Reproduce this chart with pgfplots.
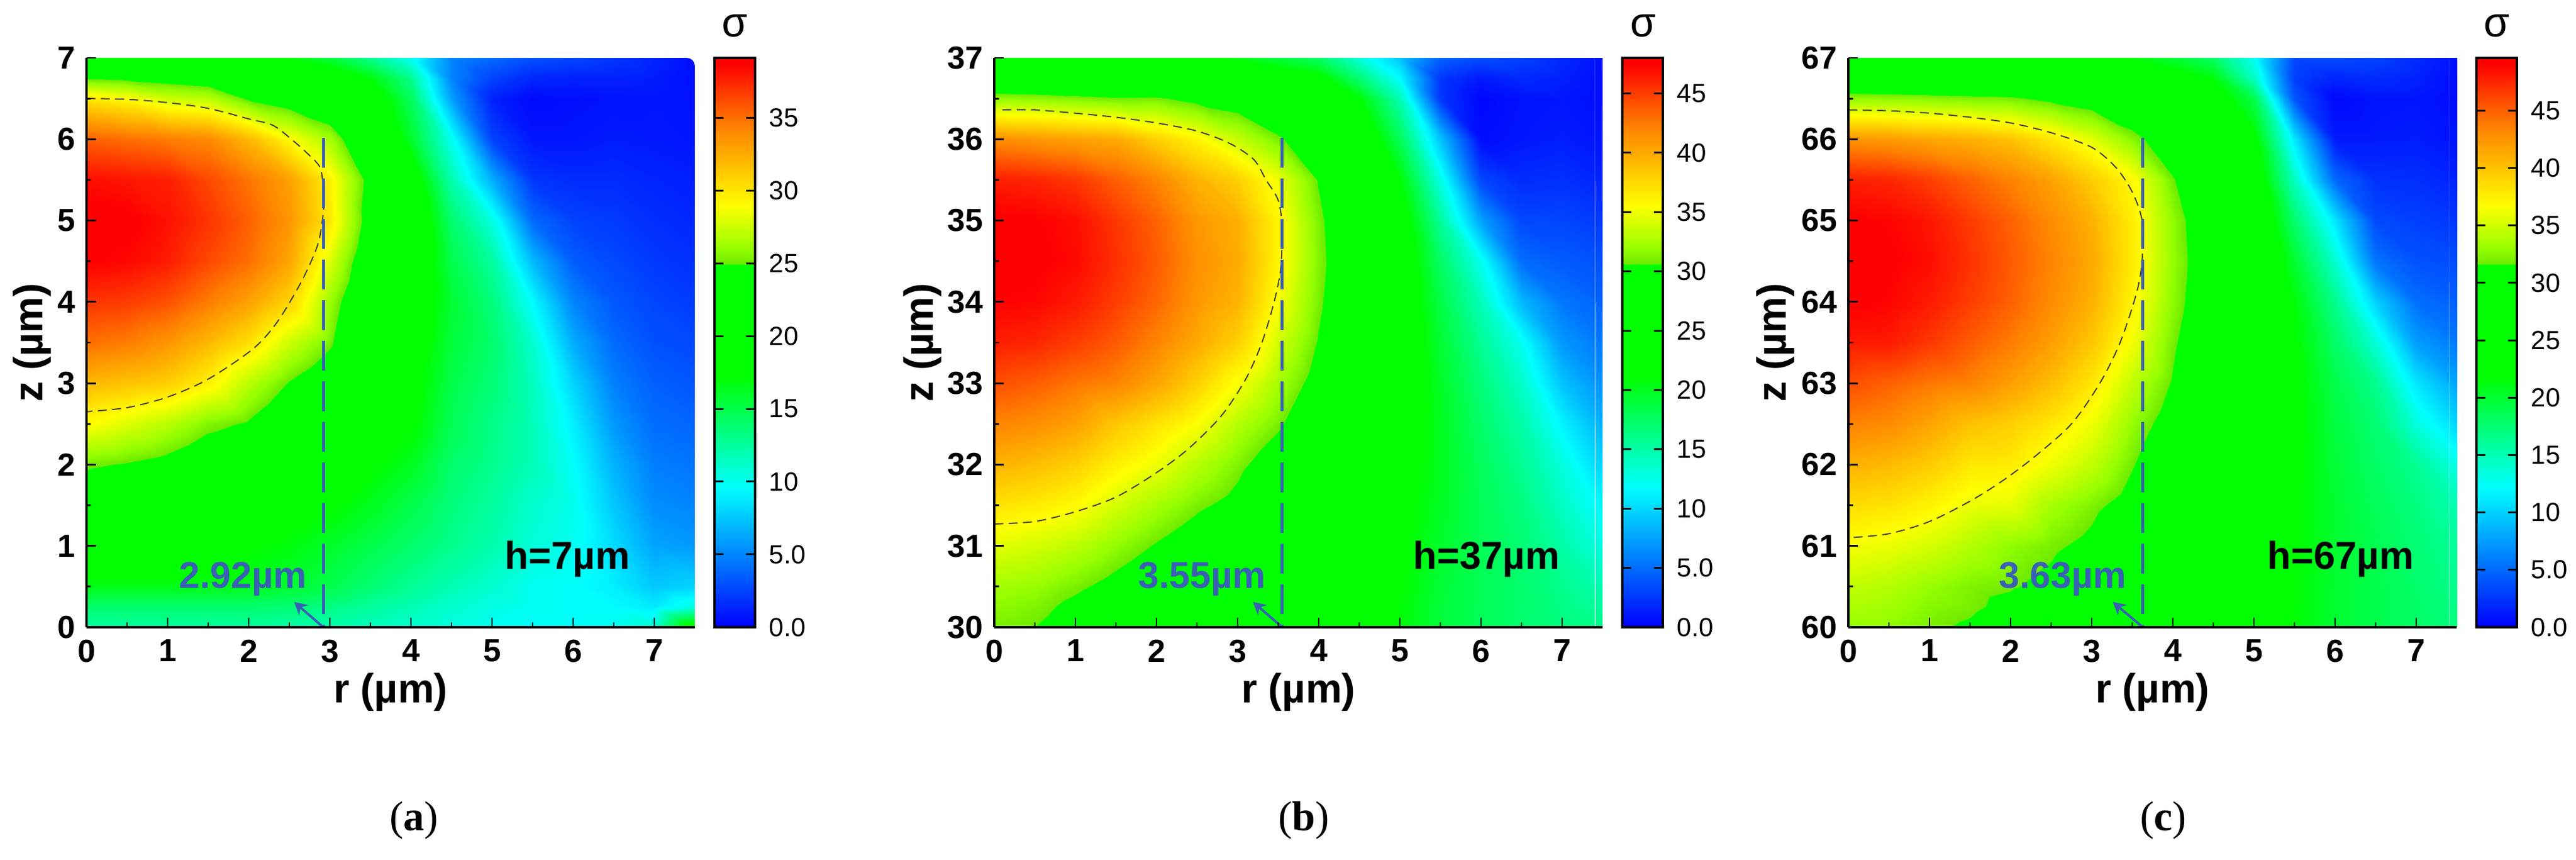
\documentclass[border=0pt]{standalone}
\usepackage{fontspec}
\setmainfont{Liberation Sans}
\newfontfamily\capfont{Liberation Serif}
\usepackage{pgfplots}
\pgfplotsset{compat=1.18}
\usetikzlibrary{arrows.meta}
\definecolor{bl}{RGB}{58,96,180}
\pgfplotsset{
 colormap={sig}{rgb255(0)=(0,0,255) rgb255(245)=(0,255,255) rgb255(440)=(0,255,0) rgb255(637)=(0,255,0) rgb255(638)=(110,235,0) rgb255(665)=(150,255,0) rgb255(740)=(255,255,0) rgb255(880)=(255,128,0) rgb255(990)=(255,0,0) rgb255(1000)=(255,0,0)},
 panel/.style={
  scale only axis, width=204pt, height=190.8pt, anchor=south west,
  xmin=0, xmax=7.5, xtick={0,...,7}, minor x tick num=1, minor y tick num=1,
  axis x line*=bottom, axis y line*=left, axis line style={-,line width=.7pt},
  axis on top, tick align=inside, major tick length=3.2pt, minor tick length=1.5pt,
  tick style={black,line width=.55pt}, minor tick style={black,line width=.55pt},
  /pgf/number format/assume math mode=true,
  tick label style={font=\fontsize{10.7}{12}\selectfont\bfseries},
  xticklabel style={yshift=-0.6pt}, yticklabel style={xshift=-0.2pt},
  label style={font=\fontsize{13.7}{15}\selectfont\bfseries},
  xlabel={r (µm)}, ylabel={z (µm)},
  xlabel style={at={(axis description cs:0.5,-0.114)},anchor=center},
  colormap name=sig, colorbar,
 },
 cbar/.style={
  at={(1.0324,1)}, anchor=north west, width=13.6pt, axis on top,
  axis line style={line width=.8pt}, tick align=inside, major tick length=3pt,
  ytick style={black,line width=.6pt}, yticklabel pos=right,
  yticklabel style={font=\fontsize{8.8}{10}\selectfont,xshift=1.2pt},
 },
 field/.style={surf,shader=interp,point meta=explicit,mesh/rows=17,mesh/cols=16,mesh/ordering=y varies},
 cont/.style={no marks,smooth,black!75,line width=.4pt,dash pattern=on 3pt off 1.8pt},
 rule/.style={no marks,color=bl,line width=1pt,dash pattern=on 10pt off 3.6pt},
 arr/.style={no marks,color=bl,line width=.8pt,-{Stealth[length=4.2pt,width=4.6pt]}},
}
\newcommand{\anno}[1]{\fontsize{#1}{#1}\selectfont\bfseries}
\newcommand{\corner}{\fill[white] (rel axis cs:1,1) ++(-2.6pt,0.4pt) -- ++(0,-0.4pt) arc[start angle=90,end angle=0,radius=2.6pt] -- ++(0.4pt,0) -- ++(0,3pt) -- cycle;}
\begin{document}
\begin{tikzpicture}
\useasboundingbox (0,0) rectangle (863.8pt,288.2pt);
% ---------- (a)
\begin{axis}[panel, at={(29pt,78pt)}, ymin=0, ymax=7, ytick={0,...,7},
 ylabel style={at={(axis description cs:-0.089,0.5)},anchor=center},
 point meta min=0, point meta max=39.1,
 colorbar style={cbar, ytick={0,5,10,15,20,25,30,35}, yticklabels={0.0,5.0,10,15,20,25,30,35}}]
\addplot[field] coordinates {
(0,0)[12.5] (0,.25)[14] (0,.5)[16.5] (0,1)[19.5] (0,1.5)[23] (0,2)[25.2] (0,2.5)[29] (0,3)[32] (0,3.5)[35] (0,4)[37] (0,4.5)[38.8] (0,5)[39.1] (0,5.5)[38.3] (0,6)[35.5] (0,6.5)[30] (0,6.75)[24.8] (0,7)[19]
(.5,0)[12.5] (.5,.25)[14] (.5,.5)[16.5] (.5,1)[19.5] (.5,1.5)[22.5] (.5,2)[24.8] (.5,2.5)[28] (.5,3)[31.5] (.5,3.5)[34.5] (.5,4)[36.7] (.5,4.5)[38.5] (.5,5)[39] (.5,5.5)[38] (.5,6)[35] (.5,6.5)[29] (.5,6.75)[24.5] (.5,7)[19]
(1,0)[12.5] (1,.25)[14] (1,.5)[16.5] (1,1)[19.5] (1,1.5)[22] (1,2)[24.2] (1,2.5)[27] (1,3)[31] (1,3.5)[33.5] (1,4)[36] (1,4.5)[37.8] (1,5)[38.2] (1,5.5)[37.7] (1,6)[34.5] (1,6.5)[27.5] (1,6.75)[24] (1,7)[19]
(1.5,0)[12.5] (1.5,.25)[14] (1.5,.5)[16.5] (1.5,1)[19] (1.5,1.5)[21] (1.5,2)[23] (1.5,2.5)[25.5] (1.5,3)[29.5] (1.5,3.5)[32] (1.5,4)[34.5] (1.5,4.5)[36.3] (1.5,5)[37] (1.5,5.5)[36.3] (1.5,6)[34] (1.5,6.5)[27] (1.5,6.75)[23.5] (1.5,7)[19]
(2,0)[12.5] (2,.25)[14] (2,.5)[16.3] (2,1)[17.3] (2,1.5)[20] (2,2)[22.5] (2,2.5)[24.7] (2,3)[27] (2,3.5)[30.3] (2,4)[33] (2,4.5)[35] (2,5)[35.5] (2,5.5)[34.8] (2,6)[32] (2,6.5)[24.6] (2,6.75)[23] (2,7)[18.5]
(2.5,0)[12.3] (2.5,.25)[13.7] (2.5,.5)[15.8] (2.5,1)[16.8] (2.5,1.5)[18] (2.5,2)[20.5] (2.5,2.5)[22.8] (2.5,3)[24.8] (2.5,3.5)[27.5] (2.5,4)[30.8] (2.5,4.5)[32.8] (2.5,5)[33.5] (2.5,5.5)[33] (2.5,6)[29] (2.5,6.5)[23.5] (2.5,6.75)[21] (2.5,7)[17]
(3,0)[12] (3,.25)[13.3] (3,.5)[15] (3,1)[16] (3,1.5)[17.4] (3,2)[19] (3,2.5)[20.5] (3,3)[23] (3,3.5)[25.3] (3,4)[26.2] (3,4.5)[28] (3,5)[29.9] (3,5.5)[29.5] (3,6)[26.5] (3,6.5)[22] (3,6.75)[19] (3,7)[15.5]
(3.5,0)[11.5] (3.5,.25)[12.5] (3.5,.5)[13.8] (3.5,1)[15] (3.5,1.5)[16.3] (3.5,2)[17.5] (3.5,2.5)[18.5] (3.5,3)[19.5] (3.5,3.5)[20.5] (3.5,4)[21.5] (3.5,4.5)[22.5] (3.5,5)[23.6] (3.5,5.5)[24] (3.5,6)[21.5] (3.5,6.5)[19] (3.5,6.75)[17] (3.5,7)[13]
(4,0)[11] (4,.25)[11.8] (4,.5)[12.8] (4,1)[14] (4,1.5)[15] (4,2)[16.3] (4,2.5)[17.5] (4,3)[18] (4,3.5)[18.5] (4,4)[19] (4,4.5)[19.5] (4,5)[20] (4,5.5)[19] (4,6)[16] (4,6.5)[14.5] (4,6.75)[13] (4,7)[10]
(4.5,0)[10.5] (4.5,.25)[11] (4.5,.5)[11.8] (4.5,1)[13] (4.5,1.5)[13.5] (4.5,2)[14] (4.5,2.5)[14.7] (4.5,3)[15] (4.5,3.5)[15.5] (4.5,4)[15.7] (4.5,4.5)[15] (4.5,5)[14] (4.5,5.5)[12] (4.5,6)[10] (4.5,6.5)[6] (4.5,6.75)[5] (4.5,7)[5]
(5,0)[10] (5,.25)[10.3] (5,.5)[11] (5,1)[12] (5,1.5)[12.5] (5,2)[13] (5,2.5)[13.2] (5,3)[13.7] (5,3.5)[14] (5,4)[13.5] (5,4.5)[12.5] (5,5)[10.5] (5,5.5)[6.5] (5,6)[2.5] (5,6.5)[1.2] (5,6.75)[2.5] (5,7)[4]
(5.5,0)[9.8] (5.5,.25)[10] (5.5,.5)[10] (5.5,1)[10.7] (5.5,1.5)[11] (5.5,2)[11.7] (5.5,2.5)[11.7] (5.5,3)[11.5] (5.5,3.5)[11] (5.5,4)[9.5] (5.5,4.5)[7] (5.5,5)[4] (5.5,5.5)[2] (5.5,6)[.8] (5.5,6.5)[.3] (5.5,6.75)[1.4] (5.5,7)[3]
(6,0)[9.7] (6,.25)[9.7] (6,.5)[9.7] (6,1)[10] (6,1.5)[10.1] (6,2)[9.7] (6,2.5)[9] (6,3)[8] (6,3.5)[6.5] (6,4)[5] (6,4.5)[3.5] (6,5)[2.5] (6,5.5)[1.6] (6,6)[.8] (6,6.5)[.5] (6,6.75)[1.2] (6,7)[2.6]
(6.5,0)[10] (6.5,.25)[9.5] (6.5,.5)[9] (6.5,1)[8.3] (6.5,1.5)[7.5] (6.5,2)[6.7] (6.5,2.5)[5.7] (6.5,3)[4.8] (6.5,3.5)[4] (6.5,4)[3.3] (6.5,4.5)[2.7] (6.5,5)[2.2] (6.5,5.5)[1.6] (6.5,6)[1] (6.5,6.5)[.7] (6.5,6.75)[1.2] (6.5,7)[2]
(7,0)[11] (7,.25)[8.8] (7,.5)[7.5] (7,1)[6.2] (7,1.5)[5.3] (7,2)[4.7] (7,2.5)[4.1] (7,3)[3.6] (7,3.5)[3] (7,4)[2.6] (7,4.5)[2.1] (7,5)[1.7] (7,5.5)[1.3] (7,6)[.9] (7,6.5)[.8] (7,6.75)[1] (7,7)[1.3]
(7.5,0)[19] (7.5,.25)[10.5] (7.5,.5)[8] (7.5,1)[5.8] (7.5,1.5)[5] (7.5,2)[4.4] (7.5,2.5)[3.8] (7.5,3)[3.2] (7.5,3.5)[2.7] (7.5,4)[2.2] (7.5,4.5)[1.8] (7.5,5)[1.4] (7.5,5.5)[1.1] (7.5,6)[.8] (7.5,6.5)[.6] (7.5,6.75)[.5] (7.5,7)[.4]
};
\addplot[cont] coordinates {(0,6.5)(0.5,6.49)(1,6.45)(1.5,6.38)(2,6.25)(2.3,6.17)(2.55,5.98)(2.75,5.8)(2.88,5.65)(2.92,5.4)(2.92,5.1)(2.85,4.7)(2.65,4.25)(2.35,3.75)(2.05,3.42)(1.5,3.05)(1,2.83)(0.5,2.7)(0,2.65)};
\addplot[rule] coordinates {(2.92,6.02)(2.92,0)};
\addplot[arr] coordinates {(2.92,0)(2.56,0.31)};
\node[font=\anno{13},text=black] at (axis cs:5.93,.84) {h=7µm};
\node[font=\anno{12.5},text=bl] at (axis cs:1.93,.59) {2.92µm};
\corner
\end{axis}
\node[font=\fontsize{14}{14}\selectfont] at (246.4pt,279.6pt) {σ};
\node[font=\fontsize{14}{14}\selectfont\capfont] at (138.8pt,13.2pt) {(\textbf{a})};
% ---------- (b)
\begin{axis}[panel, at={(333.4pt,78pt)}, ymin=30, ymax=37, ytick={30,...,37},
 ylabel style={at={(axis description cs:-0.118,0.5)},anchor=center},
 point meta min=0, point meta max=48,
 colorbar style={cbar, ytick={0,5,10,15,20,25,30,35,40,45}, yticklabels={0.0,5.0,10,15,20,25,30,35,40,45}}]
\addplot[field] coordinates {
(0,30)[31] (0,30.25)[31.7] (0,30.5)[32.3] (0,31)[34.5] (0,31.5)[37] (0,32)[39.5] (0,32.5)[42] (0,33)[44.3] (0,33.5)[46.3] (0,34)[47.5] (0,34.5)[48] (0,35)[47.8] (0,35.5)[46.3] (0,36)[41.5] (0,36.5)[31.8] (0,36.75)[27] (0,37)[22.5]
(.5,30)[30.6] (.5,30.25)[31.2] (.5,30.5)[32] (.5,31)[34] (.5,31.5)[36.5] (.5,32)[39] (.5,32.5)[41.5] (.5,33)[43.7] (.5,33.5)[46] (.5,34)[47.3] (.5,34.5)[47.8] (.5,35)[47.6] (.5,35.5)[46] (.5,36)[41] (.5,36.5)[31.6] (.5,36.75)[26.8] (.5,37)[22.5]
(1,30)[29.5] (1,30.25)[30] (1,30.5)[31] (1,31)[33.2] (1,31.5)[35.7] (1,32)[38] (1,32.5)[40.5] (1,33)[42.7] (1,33.5)[45] (1,34)[46.5] (1,34.5)[47.2] (1,35)[47] (1,35.5)[45.3] (1,36)[40.5] (1,36.5)[31.2] (1,36.75)[26.5] (1,37)[22.5]
(1.5,30)[28] (1.5,30.25)[28.7] (1.5,30.5)[29.8] (1.5,31)[31.8] (1.5,31.5)[34] (1.5,32)[36.3] (1.5,32.5)[38.5] (1.5,33)[42] (1.5,33.5)[43.8] (1.5,34)[45] (1.5,34.5)[45.6] (1.5,35)[45.3] (1.5,35.5)[43.7] (1.5,36)[40] (1.5,36.5)[30.8] (1.5,36.75)[26] (1.5,37)[22.5]
(2,30)[26.5] (2,30.25)[27.5] (2,30.5)[28.5] (2,31)[30.4] (2,31.5)[32.5] (2,32)[35] (2,32.5)[37] (2,33)[40.3] (2,33.5)[42] (2,34)[43.3] (2,34.5)[43.8] (2,35)[43.5] (2,35.5)[42] (2,36)[38] (2,36.5)[30.9] (2,36.75)[26] (2,37)[22]
(2.5,30)[25.5] (2.5,30.25)[26] (2.5,30.5)[27] (2.5,31)[29] (2.5,31.5)[31] (2.5,32)[33] (2.5,32.5)[35.4] (2.5,33)[38] (2.5,33.5)[40] (2.5,34)[41] (2.5,34.5)[41.4] (2.5,35)[41] (2.5,35.5)[39.6] (2.5,36)[36] (2.5,36.5)[29.8] (2.5,36.75)[25] (2.5,37)[21.5]
(3,30)[24.5] (3,30.25)[25] (3,30.5)[25.5] (3,31)[27.5] (3,31.5)[29.8] (3,32)[31.2] (3,32.5)[33] (3,33)[35.3] (3,33.5)[38] (3,34)[39.5] (3,34.5)[40] (3,35)[39.7] (3,35.5)[38] (3,36)[33.5] (3,36.5)[29] (3,36.75)[24.5] (3,37)[20.5]
(3.5,30)[23.5] (3.5,30.25)[24] (3.5,30.5)[24.5] (3.5,31)[25.7] (3.5,31.5)[27] (3.5,32)[29] (3.5,32.5)[31] (3.5,33)[32.5] (3.5,33.5)[34] (3.5,34)[35.4] (3.5,34.5)[36] (3.5,35)[36] (3.5,35.5)[35] (3.5,36)[31] (3.5,36.5)[27] (3.5,36.75)[23] (3.5,37)[19]
(4,30)[23] (4,30.25)[23] (4,30.5)[23.3] (4,31)[24.3] (4,31.5)[25.2] (4,32)[26.5] (4,32.5)[28] (4,33)[29.5] (4,33.5)[30.4] (4,34)[31] (4,34.5)[31.3] (4,35)[31.1] (4,35.5)[30.4] (4,36)[28] (4,36.5)[25] (4,36.75)[22] (4,37)[17.5]
(4.5,30)[22] (4.5,30.25)[22] (4.5,30.5)[22] (4.5,31)[22.7] (4.5,31.5)[23.3] (4.5,32)[24] (4.5,32.5)[25] (4.5,33)[26] (4.5,33.5)[26.8] (4.5,34)[27.3] (4.5,34.5)[27.5] (4.5,35)[27.3] (4.5,35.5)[26.5] (4.5,36)[24] (4.5,36.5)[21] (4.5,36.75)[17] (4.5,37)[13]
(5,30)[21] (5,30.25)[21] (5,30.5)[21.2] (5,31)[21.5] (5,31.5)[21.8] (5,32)[22.2] (5,32.5)[22.7] (5,33)[23] (5,33.5)[23.3] (5,34)[23.3] (5,34.5)[23.3] (5,35)[22.8] (5,35.5)[21] (5,36)[18] (5,36.5)[14.5] (5,36.75)[11.7] (5,37)[9]
(5.5,30)[19] (5.5,30.25)[19] (5.5,30.5)[19.2] (5.5,31)[19.5] (5.5,31.5)[19.8] (5.5,32)[20] (5.5,32.5)[20] (5.5,33)[19.8] (5.5,33.5)[19.3] (5.5,34)[18.6] (5.5,34.5)[17.5] (5.5,35)[15.5] (5.5,35.5)[12.7] (5.5,36)[9] (5.5,36.5)[2.5] (5.5,36.75)[2.5] (5.5,37)[4.5]
(6,30)[18] (6,30.25)[18] (6,30.5)[18] (6,31)[18] (6,31.5)[18] (6,32)[17.8] (6,32.5)[17.3] (6,33)[16.7] (6,33.5)[15.7] (6,34)[14.3] (6,34.5)[12.3] (6,35)[7.5] (6,35.5)[3.2] (6,36)[.5] (6,36.5)[.2] (6,36.75)[1.2] (6,37)[3.5]
(6.5,30)[17.2] (6.5,30.25)[17.2] (6.5,30.5)[17.2] (6.5,31)[17] (6.5,31.5)[16.5] (6.5,32)[15.8] (6.5,32.5)[15] (6.5,33)[13.8] (6.5,33.5)[12.2] (6.5,34)[8.5] (6.5,34.5)[5] (6.5,35)[3.3] (6.5,35.5)[2] (6.5,36)[1] (6.5,36.5)[.8] (6.5,36.75)[1.8] (6.5,37)[3]
(7,30)[16.5] (7,30.25)[16.3] (7,30.5)[16] (7,31)[15] (7,31.5)[14] (7,32)[13] (7,32.5)[11.3] (7,33)[9] (7,33.5)[7] (7,34)[5.5] (7,34.5)[4.2] (7,35)[3.2] (7,35.5)[2.2] (7,36)[1.3] (7,36.5)[1] (7,36.75)[1.4] (7,37)[1.8]
(7.5,30)[16] (7.5,30.25)[15.3] (7.5,30.5)[14.5] (7.5,31)[12.7] (7.5,31.5)[11.3] (7.5,32)[9.6] (7.5,32.5)[8] (7.5,33)[6.6] (7.5,33.5)[5.5] (7.5,34)[4.5] (7.5,34.5)[3.7] (7.5,35)[2.6] (7.5,35.5)[1.5] (7.5,36)[.9] (7.5,36.5)[.5] (7.5,36.75)[.5] (7.5,37)[.6]
};
\addplot[cont] coordinates {(0.1,36.36)(0.5,36.36)(1,36.32)(1.5,36.27)(2,36.2)(2.5,36.1)(2.9,35.95)(3.2,35.75)(3.35,35.5)(3.5,35.25)(3.55,34.9)(3.53,34.4)(3.45,34)(3.3,33.5)(3.1,33.05)(2.8,32.6)(2.4,32.2)(2,31.9)(1.5,31.6)(1,31.42)(.5,31.3)(0,31.27)};
\addplot[rule] coordinates {(3.55,36.02)(3.55,30)};
\addplot[arr] coordinates {(3.55,30)(3.19,30.31)};
\node[font=\anno{13},text=black] at (axis cs:6.07,30.84) {h=37µm};
\node[font=\anno{12.5},text=bl] at (axis cs:2.56,30.59) {3.55µm};
\corner
\end{axis}
\node[font=\fontsize{14}{14}\selectfont] at (551pt,279.6pt) {σ};
\node[font=\fontsize{14}{14}\selectfont\capfont] at (437.2pt,13.2pt) {(\textbf{b})};
% ---------- (c)
\begin{axis}[panel, at={(619.8pt,78pt)}, ymin=60, ymax=67, ytick={60,...,67},
 ylabel style={at={(axis description cs:-0.12,0.5)},anchor=center},
 point meta min=0, point meta max=49.6,
 colorbar style={cbar, ytick={0,5,10,15,20,25,30,35,40,45}, yticklabels={0.0,5.0,10,15,20,25,30,35,40,45}}]
\addplot[field] coordinates {
(0,60)[33] (0,60.25)[33.8] (0,60.5)[34.5] (0,61)[36.4] (0,61.5)[38.6] (0,62)[41] (0,62.5)[43.5] (0,63)[45.8] (0,63.5)[48] (0,64)[49.3] (0,64.5)[49.6] (0,65)[49.3] (0,65.5)[47.8] (0,66)[42.5] (0,66.5)[32.8] (0,66.75)[28] (0,67)[23.5]
(.5,60)[32.8] (.5,60.25)[33.4] (.5,60.5)[34] (.5,61)[36] (.5,61.5)[38.2] (.5,62)[40.5] (.5,62.5)[43] (.5,63)[45] (.5,63.5)[48] (.5,64)[49] (.5,64.5)[49.3] (.5,65)[49] (.5,65.5)[47.5] (.5,66)[42.2] (.5,66.5)[32.7] (.5,66.75)[27.8] (.5,67)[23.5]
(1,60)[32] (1,60.25)[32.5] (1,60.5)[33] (1,61)[35.2] (1,61.5)[37.3] (1,62)[39.5] (1,62.5)[41.7] (1,63)[44] (1,63.5)[46.8] (1,64)[48] (1,64.5)[48.6] (1,65)[48.2] (1,65.5)[46.5] (1,66)[41.5] (1,66.5)[32.5] (1,66.75)[27.5] (1,67)[23.5]
(1.5,60)[31.3] (1.5,60.25)[32] (1.5,60.5)[32.2] (1.5,61)[34] (1.5,61.5)[36] (1.5,62)[38] (1.5,62.5)[40] (1.5,63)[43.5] (1.5,63.5)[45.2] (1.5,64)[46.5] (1.5,64.5)[47] (1.5,65)[46.6] (1.5,65.5)[45] (1.5,66)[41] (1.5,66.5)[32.2] (1.5,66.75)[27.3] (1.5,67)[23.3]
(2,60)[30] (2,60.25)[31] (2,60.5)[31.8] (2,61)[32.8] (2,61.5)[35.8] (2,62)[37.8] (2,62.5)[39.3] (2,63)[42] (2,63.5)[43.8] (2,64)[45] (2,64.5)[45.3] (2,65)[45] (2,65.5)[43.5] (2,66)[40] (2,66.5)[32] (2,66.75)[27] (2,67)[23]
(2.5,60)[28.5] (2.5,60.25)[29.5] (2.5,60.5)[31] (2.5,61)[32] (2.5,61.5)[33.5] (2.5,62)[36.2] (2.5,62.5)[38] (2.5,63)[40.3] (2.5,63.5)[42] (2.5,64)[43] (2.5,64.5)[43.4] (2.5,65)[43] (2.5,65.5)[41.8] (2.5,66)[38] (2.5,66.5)[31] (2.5,66.75)[26.5] (2.5,67)[22.7]
(3,60)[27] (3,60.25)[28] (3,60.5)[29.5] (3,61)[31] (3,61.5)[32.2] (3,62)[34.5] (3,62.5)[36.2] (3,63)[38] (3,63.5)[39.8] (3,64)[41] (3,64.5)[41.4] (3,65)[41] (3,65.5)[39.5] (3,66)[35.7] (3,66.5)[30] (3,66.75)[25.5] (3,67)[22]
(3.5,60)[26] (3.5,60.25)[26.5] (3.5,60.5)[27.5] (3.5,61)[28.7] (3.5,61.5)[30.5] (3.5,62)[31.8] (3.5,62.5)[33] (3.5,63)[34.5] (3.5,63.5)[36.3] (3.5,64)[37.3] (3.5,64.5)[37.8] (3.5,65)[37.7] (3.5,65.5)[37] (3.5,66)[32.5] (3.5,66.5)[28.5] (3.5,66.75)[24.5] (3.5,67)[21.5]
(4,60)[25] (4,60.25)[25.3] (4,60.5)[25.7] (4,61)[26.7] (4,61.5)[27.7] (4,62)[29] (4,62.5)[30.3] (4,63)[31.4] (4,63.5)[32] (4,64)[32.7] (4,64.5)[33] (4,65)[32.8] (4,65.5)[31.8] (4,66)[29.5] (4,66.5)[26] (4,66.75)[23] (4,67)[20]
(4.5,60)[24] (4.5,60.25)[24.2] (4.5,60.5)[24.5] (4.5,61)[25] (4.5,61.5)[25.7] (4.5,62)[26.4] (4.5,62.5)[27] (4.5,63)[27.7] (4.5,63.5)[28.5] (4.5,64)[29] (4.5,64.5)[29.2] (4.5,65)[29] (4.5,65.5)[28.3] (4.5,66)[26.5] (4.5,66.5)[23.5] (4.5,66.75)[21.5] (4.5,67)[18]
(5,60)[23] (5,60.25)[23] (5,60.5)[23.2] (5,61)[23.5] (5,61.5)[23.7] (5,62)[24] (5,62.5)[24.5] (5,63)[25] (5,63.5)[25.4] (5,64)[25.6] (5,64.5)[25.6] (5,65)[25.3] (5,65.5)[24.3] (5,66)[22.5] (5,66.5)[19] (5,66.75)[14.5] (5,67)[12.5]
(5.5,60)[21.7] (5.5,60.25)[21.7] (5.5,60.5)[21.8] (5.5,61)[21.9] (5.5,61.5)[22] (5.5,62)[22.1] (5.5,62.5)[22.2] (5.5,63)[22.2] (5.5,63.5)[22] (5.5,64)[21.5] (5.5,64.5)[20] (5.5,65)[17.8] (5.5,65.5)[14.5] (5.5,66)[11] (5.5,66.5)[4] (5.5,66.75)[3] (5.5,67)[3.5]
(6,60)[20] (6,60.25)[20] (6,60.5)[20] (6,61)[20] (6,61.5)[20] (6,62)[19.8] (6,62.5)[19.5] (6,63)[19] (6,63.5)[18] (6,64)[16.5] (6,64.5)[14] (6,65)[11] (6,65.5)[5] (6,66)[1.2] (6,66.5)[.3] (6,66.75)[1.7] (6,67)[3.5]
(6.5,60)[19] (6.5,60.25)[19] (6.5,60.5)[19] (6.5,61)[18.8] (6.5,61.5)[18.5] (6.5,62)[18] (6.5,62.5)[17.5] (6.5,63)[16.5] (6.5,63.5)[13.7] (6.5,64)[10] (6.5,64.5)[5.5] (6.5,65)[3.5] (6.5,65.5)[2.3] (6.5,66)[1.2] (6.5,66.5)[.9] (6.5,66.75)[2] (6.5,67)[3.2]
(7,60)[18] (7,60.25)[18] (7,60.5)[17.8] (7,61)[17.5] (7,61.5)[17] (7,62)[16.3] (7,62.5)[13.5] (7,63)[11] (7,63.5)[7.5] (7,64)[5.3] (7,64.5)[3.9] (7,65)[3] (7,65.5)[2.2] (7,66)[1.3] (7,66.5)[1] (7,66.75)[1.5] (7,67)[2]
(7.5,60)[17] (7.5,60.25)[16.8] (7.5,60.5)[16.5] (7.5,61)[16] (7.5,61.5)[15] (7.5,62)[13] (7.5,62.5)[10.2] (7.5,63)[7.8] (7.5,63.5)[5.8] (7.5,64)[4.6] (7.5,64.5)[3.6] (7.5,65)[2.6] (7.5,65.5)[1.6] (7.5,66)[.9] (7.5,66.5)[.5] (7.5,66.75)[.5] (7.5,67)[.6]
};
\addplot[cont] coordinates {(0,66.36)(.5,66.35)(1,66.32)(1.5,66.27)(2,66.2)(2.5,66.08)(3,65.9)(3.3,65.65)(3.5,65.35)(3.62,65)(3.62,64.5)(3.55,64.1)(3.35,63.5)(3.1,63)(2.75,62.5)(2.3,62.1)(1.9,61.8)(1.5,61.55)(1,61.3)(.5,61.15)(0,61.1)};
\addplot[rule] coordinates {(3.63,66.02)(3.63,60)};
\addplot[arr] coordinates {(3.63,60)(3.26,60.31)};
\node[font=\anno{13},text=black] at (axis cs:6.07,60.84) {h=67µm};
\node[font=\anno{12.5},text=bl] at (axis cs:2.64,60.59) {3.63µm};
\corner
\end{axis}
\node[font=\fontsize{14}{14}\selectfont] at (837.3pt,279.6pt) {σ};
\node[font=\fontsize{14}{14}\selectfont\capfont] at (725.4pt,13.2pt) {(\textbf{c})};
\end{tikzpicture}
\end{document}
